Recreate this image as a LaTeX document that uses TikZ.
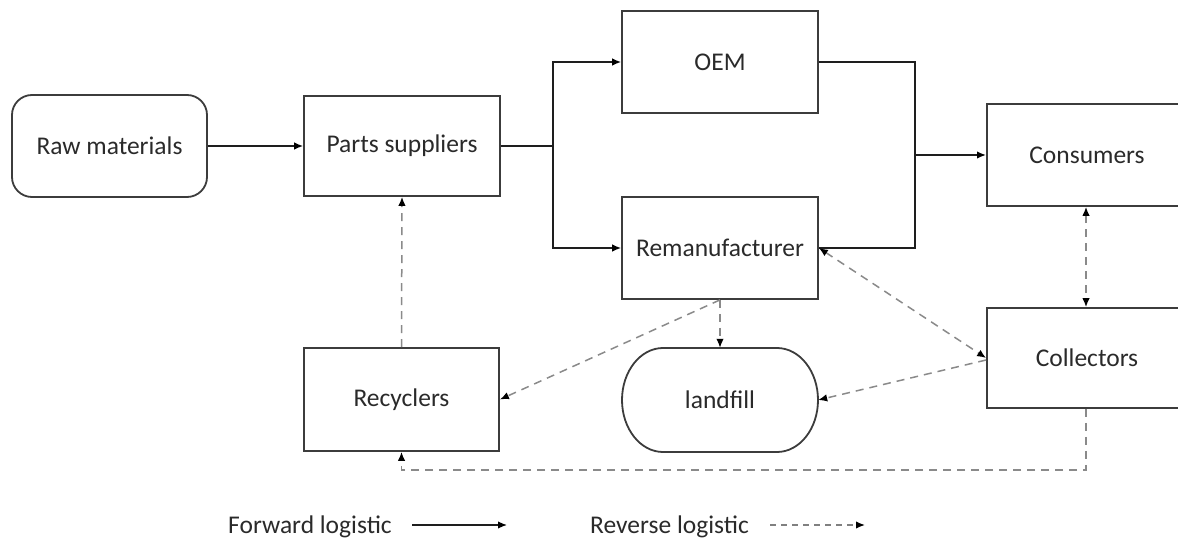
\documentclass[tikz,border=0pt]{standalone}
\usepackage{fontspec}
\setmainfont{Carlito}
\usetikzlibrary{arrows.meta,calc}
\definecolor{boxgray}{HTML}{3C3C3C}
\definecolor{linegray}{HTML}{1E1E1E}
\definecolor{dashgray}{HTML}{8A8A8A}
\definecolor{txt}{HTML}{2A2A2A}
\begin{document}
\begin{tikzpicture}[x=1pt,y=-1pt,
  box/.style={draw=boxgray, line width=1.8pt, minimum width=196pt, minimum height=102pt,
    inner sep=0pt, font=\fontsize{25.5}{30}\selectfont, text=txt},
  label/.style={inner sep=0pt, font=\fontsize{25.5}{30}\selectfont, text=txt},
  tip/.style={-{Latex[length=9pt,width=7.5pt,color=black]}},
  fwd/.style={draw=linegray, line width=1.4pt},
  fwdarrow/.style={fwd, tip},
  rev/.style={draw=dashgray, line width=1.5pt, dash pattern=on 8pt off 6pt, tip},
  revboth/.style={rev, {Latex[length=9pt,width=7.5pt,color=black]}-{Latex[length=9pt,width=7.5pt,color=black]}}
]
\useasboundingbox (0,0) rectangle (1178,545);
\clip (0,0) rectangle (1178,545);

% nodes
\node[box, rounded corners=20pt, minimum width=195pt] (raw) at (109.5,146) {Raw materials};
\node[box, minimum height=100pt] (parts) at (402,146) {Parts suppliers};
\node[box] (oem) at (720,62) {OEM};
\node[box] (reman) at (720,248) {Remanufacturer};
\node[box, minimum width=200pt] (cons) at (1087,155) {Consumers};
\node[box, minimum width=200pt, minimum height=100pt] (coll) at (1087,358) {Collectors};
\node[box, minimum width=195pt, minimum height=103pt] (recyc) at (401.5,399.5) {Recyclers};
\node[label, minimum width=196pt, minimum height=104pt] (landfill) at (720,400) {landfill};

% landfill outline with elliptic ends
\draw[boxgray, line width=1.8pt]
  (663,348) -- (777,348)
  .. controls (799.6,348) and (818,371.3) .. (818,400)
  .. controls (818,428.7) and (799.6,452) .. (777,452)
  -- (663,452)
  .. controls (640.4,452) and (622,428.7) .. (622,400)
  .. controls (622,371.3) and (640.4,348) .. (663,348) -- cycle;

% junction points of the forward flow
\coordinate (split) at (553,146);
\coordinate (merge) at (915,155);
\coordinate (turn) at (1086,470);

% forward logistics
\draw[fwdarrow] (raw.east) -- (parts.west);
\draw[fwd] (parts.east) -- (split);
\draw[fwdarrow] (split) |- (oem.west);
\draw[fwdarrow] (split) |- (reman.west);
\draw[fwd] (oem.east) -| (merge) |- (reman.east);
\draw[fwdarrow, line width=2.2pt] (merge) -- (cons.west);

% reverse logistics
\draw[revboth] (cons.south -| turn) -- (coll.north -| turn);
\draw[revboth] (reman.east) -- (coll.west);
\draw[rev] ($(coll.west)+(0,2)$) -- (landfill.east);
\draw[rev] (reman.south) -- (landfill.north);
\draw[rev] (reman.south) -- (recyc.east);
\draw[rev] (recyc.north) -- (parts.south);
\draw[rev] (coll.south -| turn) -- (turn) -| (recyc.south);

% legend
\node[label] (fwdlabel) at (310,527) {Forward logistic};
\coordinate (fwdA) at (412,525);
\coordinate (fwdB) at (507,525);
\draw[fwdarrow] (fwdA) -- (fwdB);
\node[label] (revlabel) at (669.5,527) {Reverse logistic};
\coordinate (revA) at (770,525);
\coordinate (revB) at (865,525);
\draw[rev, draw=gray, dash pattern=on 6pt off 5pt] (revA) -- (revB);
\end{tikzpicture}
\end{document}
